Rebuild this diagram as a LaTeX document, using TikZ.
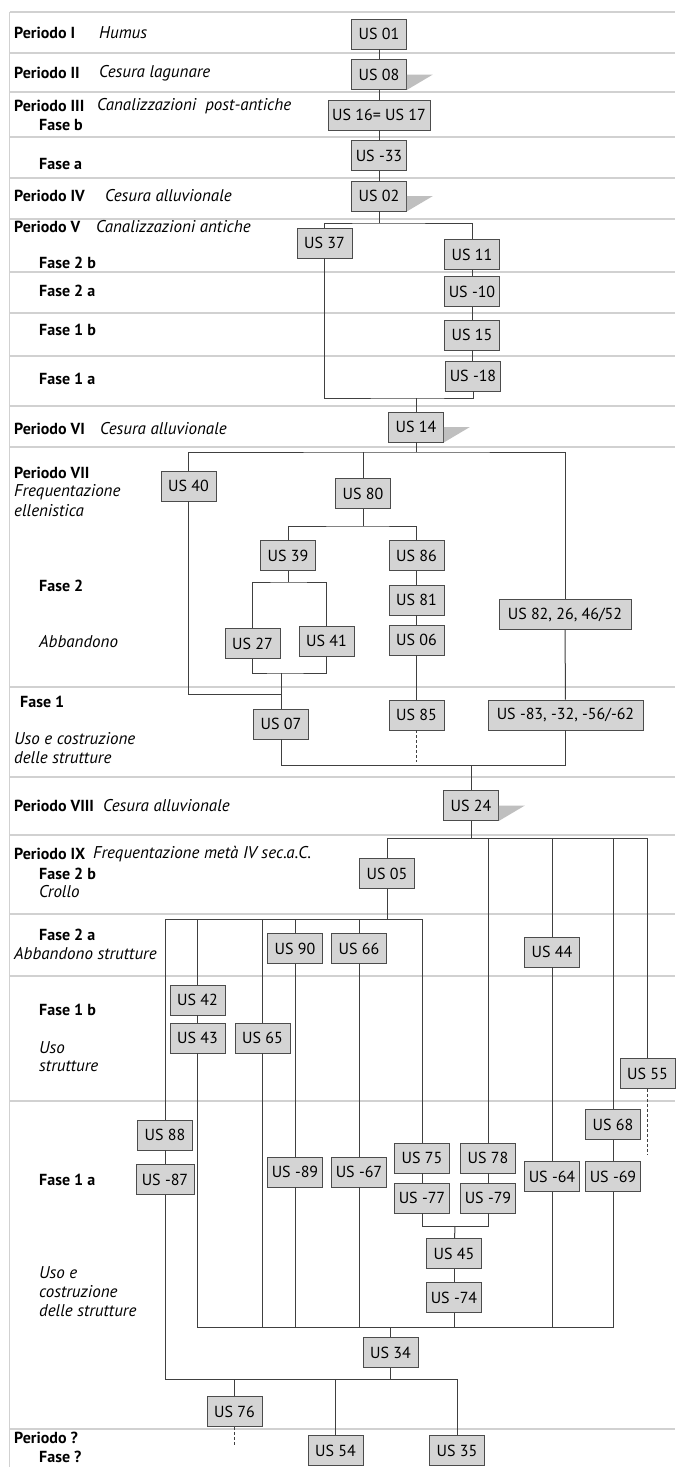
\documentclass[tikz,border=0pt]{standalone}
\usepackage{fontspec}
\setmainfont{PT Sans}
\begin{document}
\begin{tikzpicture}[x=1pt,y=-1pt,
  usbox/.style={draw=black!70, fill=black!17, line width=0.8pt, minimum height=30pt, minimum width=55pt, inner sep=0pt, font=\fontsize{16}{18}\selectfont},
  conn/.style={draw=black!75, line width=1pt},
  dashconn/.style={conn, dash pattern=on 3pt off 2pt},
  sep/.style={draw=black!18, line width=1.2pt},
  wedge/.style={fill=black!25, draw=none},
  lab/.style={anchor=west, inner sep=0pt, font=\fontsize{16}{18}\selectfont\bfseries},
  ital/.style={anchor=west, inner sep=0pt, font=\fontsize{17}{19}\selectfont\itshape}]
\useasboundingbox (0,0) rectangle (675,1467);
\fill[white] (0,0) rectangle (675,1467);
% separators
\foreach \yy in {12,53,92,137,178,219,272,313,356,406,447,687,777,835,914,976,1101,1429}
  \draw[sep] (9.5,\yy) -- (675,\yy);
\draw[sep] (9.5,12) -- (9.5,1467);
% labels
\node[lab] (l1) at (14,33) {Periodo I};
\node[ital] (i1) at (99,33) {Humus};
\node[lab] (l2) at (14,73) {Periodo II};
\node[ital] (i2) at (99,73) {Cesura lagunare};
\node[lab] (l3) at (14,106) {Periodo III};
\node[ital] (i3) at (97,106) {Canalizzazioni\ \ post-antiche};
\node[lab] (l3b) at (39,125) {Fase b};
\node[lab] (l4) at (39,164) {Fase a};
\node[lab] (l5) at (14,196) {Periodo IV};
\node[ital] (i5) at (105,196) {Cesura alluvionale};
\node[lab] (l6) at (14,227) {Periodo V};
\node[ital] (i6) at (96,227) {Canalizzazioni antiche};
\node[lab] (l6a) at (39,263) {Fase 2 b};
\node[lab] (l6b) at (39,291) {Fase 2 a};
\node[lab] (l6c) at (39,330) {Fase 1 b};
\node[lab] (l6d) at (39,379) {Fase 1 a};
\node[lab] (l7) at (14,429) {Periodo VI};
\node[ital] (i7) at (100,429) {Cesura alluvionale};
\node[lab] (l8) at (14,473) {Periodo VII};
\node[ital] (i8a) at (14,492) {Frequentazione};
\node[ital] (i8b) at (14,511) {ellenistica};
\node[lab] (l8c) at (39,586) {Fase 2};
\node[ital] (i8d) at (39,642) {Abbandono};
\node[lab] (l8e) at (20,702) {Fase 1};
\node[ital] (i8f) at (14,739) {Uso e costruzione};
\node[ital] (i8g) at (14,758) {delle strutture};
\node[lab] (l9) at (14,806) {Periodo VIII};
\node[ital] (i9) at (103,806) {Cesura alluvionale};
\node[lab] (l10) at (14,854) {Periodo IX};
\node[ital] (i10) at (93,854) {Frequentazione metà IV sec.a.C.};
\node[lab] (l10a) at (39,874) {Fase 2 b};
\node[ital] (i10b) at (39,892) {Crollo};
\node[lab] (l10c) at (39,935) {Fase 2 a};
\node[ital] (i10d) at (14,954) {Abbandono strutture};
\node[lab] (l10e) at (39,1010) {Fase 1 b};
\node[ital] (i10f) at (39,1048) {Uso};
\node[ital] (i10g) at (39,1066) {strutture};
\node[lab] (l10h) at (39,1180) {Fase 1 a};
\node[ital] (i10i) at (39,1273) {Uso e};
\node[ital] (i10j) at (39,1292) {costruzione};
\node[ital] (i10k) at (39,1311) {delle strutture};
\node[lab] (l11) at (14,1438) {Periodo ?};
\node[lab] (l11a) at (39,1457) {Fase ?};
% boxes
\node[usbox] (u01) at (379,34) {US 01};
\node[usbox] (u08) at (379,74.5) {US 08};
\node[usbox, minimum width=102pt] (u1617) at (379,115) {US 16= US 17};
\node[usbox] (u33) at (379,155.5) {US -33};
\node[usbox] (u02) at (379,196) {US 02};
\node[usbox] (u37) at (324.5,243) {US 37};
\node[usbox] (u11) at (472,254.5) {US 11};
\node[usbox] (u10) at (472,291.5) {US -10};
\node[usbox] (u15) at (472,335) {US 15};
\node[usbox] (u18) at (473,376) {US -18};
\node[usbox] (u14) at (416,427) {US 14};
\node[usbox] (u40) at (188.5,486) {US 40};
\node[usbox] (u80) at (363,493.5) {US 80};
\node[usbox] (u39) at (288,555.5) {US 39};
\node[usbox] (u86) at (416.5,555.5) {US 86};
\node[usbox] (u81) at (416.5,600) {US 81};
\node[usbox] (u06) at (416.5,640) {US 06};
\node[usbox] (u27) at (252.5,643.5) {US 27};
\node[usbox] (u41) at (326.5,641) {US 41};
\node[usbox, minimum width=132pt] (u82) at (565,614.5) {US 82, 26, 46/52};
\node[usbox] (u07) at (281,724) {US 07};
\node[usbox] (u85) at (416.5,715) {US 85};
\node[usbox, minimum width=155pt] (u83) at (565.5,715) {US -83, -32, -56/-62};
\node[usbox] (u24) at (471,805.5) {US 24};
\node[usbox] (u05) at (387,873.5) {US 05};
\node[usbox] (u90) at (295,948.5) {US 90};
\node[usbox] (u66) at (359,948.5) {US 66};
\node[usbox] (u44) at (552,952) {US 44};
\node[usbox] (u42) at (197.5,1000) {US 42};
\node[usbox] (u43) at (197.5,1038) {US 43};
\node[usbox] (u65) at (262.5,1038) {US 65};
\node[usbox] (u55) at (647.5,1073.5) {US 55};
\node[usbox] (u68) at (613,1124.5) {US 68};
\node[usbox] (u88) at (165,1135) {US 88};
\node[usbox] (u75) at (422,1158) {US 75};
\node[usbox] (u78) at (488,1158) {US 78};
\node[usbox, minimum width=58pt] (u87) at (165,1179.5) {US -87};
\node[usbox] (u89) at (295,1172) {US -89};
\node[usbox] (u67) at (359,1172) {US -67};
\node[usbox] (u64) at (552,1176.5) {US -64};
\node[usbox] (u69) at (613,1176.5) {US -69};
\node[usbox] (u77) at (422,1198) {US -77};
\node[usbox] (u79) at (488,1198) {US -79};
\node[usbox] (u45) at (454,1253.5) {US 45};
\node[usbox] (u74) at (454,1297.5) {US -74};
\node[usbox] (u34) at (390.5,1352.5) {US 34};
\node[usbox] (u76) at (234.5,1411.5) {US 76};
\node[usbox] (u54) at (335.5,1450.5) {US 54};
\node[usbox] (u35) at (457,1450.5) {US 35};
% wedges
\foreach \n in {u08,u02,u14,u24}
  \fill[wedge] (\n.east) -- ++(26,0) -- (\n.south east) -- cycle;
% junctions
\coordinate (j1) at (379,223);
\coordinate (j2) at (416,398);
\coordinate (j3) at (416,452);
\coordinate (j4) at (363,526);
\coordinate (j5) at (288,582);
\coordinate (j6) at (281,673);
\coordinate (j7) at (281,694);
\coordinate (j8) at (471,765);
\coordinate (j9) at (471,838);
\coordinate (j10) at (387,919);
\coordinate (j11) at (455,1226);
\coordinate (j12) at (390.5,1327);
\coordinate (j13) at (390.5,1379);
\coordinate (d85) at (416.5,762);
\coordinate (d55) at (647.5,1155);
\coordinate (d76) at (234.5,1445);
% connectors
\draw[conn] (u01) -- (u08);
\draw[conn] (u08) -- (u1617);
\draw[conn] (u1617) -- (u33);
\draw[conn] (u33) -- (u02);
\draw[conn] (u02) -- (j1);
\draw[conn] (u37) |- (j1) -| (u11);
\draw[conn] (u11) -- (u10);
\draw[conn] (u10) -- (u15);
\draw[conn] (u15) -- (u15 |- u18.north);
\draw[conn] (u37) |- (j2) -| (u18);
\draw[conn] (j2) -- (u14);
\draw[conn] (u14) -- (j3);
\draw[conn] (u40) |- (j3) -| (u82);
\draw[conn] (u80) -- (u80 |- j3);
\draw[conn] (u80) -- (j4);
\draw[conn] (u39) |- (j4) -| (u86);
\draw[conn] (u39) -- (j5);
\draw[conn] (u27) |- (j5) -| (u41);
\draw[conn] (u27) |- (j6) -| (u41);
\draw[conn] (j6) -- (u07);
\draw[conn] (u40) |- (j7);
\draw[conn] (u86) -- (u81);
\draw[conn] (u81) -- (u06);
\draw[conn] (u06) -- (u85);
\draw[dashconn] (u85) -- (d85);
\draw[conn] (u82) -- (u83);
\draw[conn] (u07) |- (j8) -| (u83);
\draw[conn] (j8) -- (u24);
\draw[conn] (u24) -- (j9);
\draw[conn] (u05) |- (j9) -| (u55);
\draw[conn] (u78 |- j9) -- (u78);
\draw[conn] (u44 |- j9) -- (u44);
\draw[conn] (u68 |- j9) -- (u68);
\draw[conn] (u44) -- (u64);
\draw[conn] (u68) -- (u69);
\draw[dashconn] (u55) -- (d55);
\draw[conn] (u05) -- (j10);
\draw[conn] (u88) |- (j10) -| (u75);
\draw[conn] (u42 |- j10) -- (u42);
\draw[conn] (u65 |- j10) -- (u65);
\draw[conn] (u90 |- j10) -- (u90);
\draw[conn] (u66 |- j10) -- (u66);
\draw[conn] (u42) -- (u43);
\draw[conn] (u90) -- (u89);
\draw[conn] (u66) -- (u67);
\draw[conn] (u88) -- (u87);
\draw[conn] (u75) -- (u77);
\draw[conn] (u78) -- (u79);
\draw[conn] (u77) |- (j11) -| (u79);
\draw[conn] (j11) -- (u45);
\draw[conn] (u45) -- (u74);
\draw[conn] (u43) |- (j12) -| (u69);
\draw[conn] (u65) -- (u65 |- j12);
\draw[conn] (u89) -- (u89 |- j12);
\draw[conn] (u67) -- (u67 |- j12);
\draw[conn] (u74) -- (u74 |- j12);
\draw[conn] (u64) -- (u64 |- j12);
\draw[conn] (j12) -- (u34);
\draw[conn] (u34) -- (j13);
\draw[conn] (u87) |- (j13) -| (u35);
\draw[conn] (u76 |- j13) -- (u76);
\draw[conn] (u54 |- j13) -- (u54);
\draw[dashconn] (u76) -- (d76);
\end{tikzpicture}
\end{document}
